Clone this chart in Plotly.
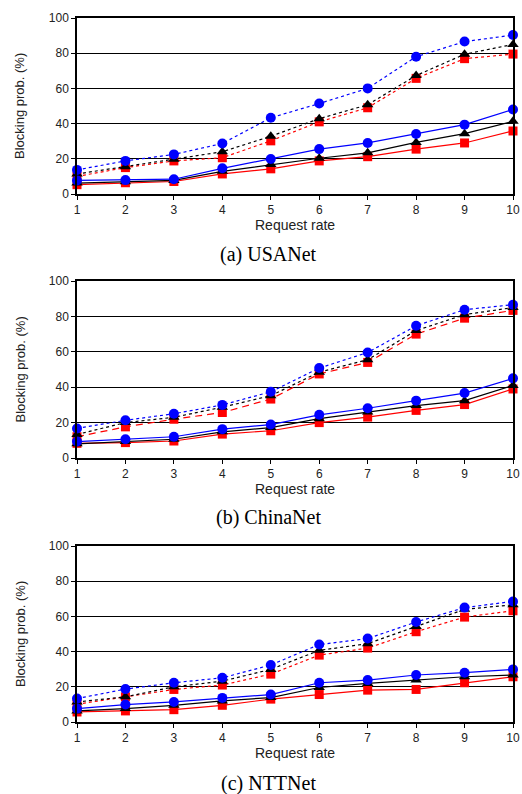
import plotly.graph_objects as go

x = list(range(1, 11))
x_ticks = [str(v) for v in x]
y_ticks = [0, 20, 40, 60, 80, 100]

# (a) USANet
usa_blue_dot = [13.7, 18.8, 22.5, 28.7, 43.3, 51.4, 60.0, 78.0, 86.6, 90.3]
usa_black_dot = [11.4, 15.5, 19.7, 24.0, 32.8, 42.8, 50.7, 67.3, 79.4, 85.0]
usa_red_dot = [10.0, 15.0, 18.8, 20.6, 30.2, 41.0, 49.0, 65.7, 76.9, 79.5]
usa_blue = [7.7, 7.9, 8.4, 14.6, 19.9, 25.5, 29.0, 34.1, 39.4, 48.0]
usa_black = [6.2, 6.9, 7.7, 12.9, 16.7, 20.3, 23.4, 29.3, 34.3, 41.3]
usa_red = [5.3, 6.4, 7.1, 11.4, 14.3, 18.8, 21.2, 25.5, 29.0, 35.8]

# (b) ChinaNet
chn_blue_dot = [16.7, 21.3, 25.0, 30.0, 37.4, 50.8, 59.6, 74.7, 83.8, 86.6]
chn_black_dot = [13.3, 20.0, 23.0, 28.7, 35.2, 48.5, 55.5, 72.0, 81.0, 85.0]
chn_red_dash = [12.0, 17.6, 21.9, 25.7, 33.3, 47.5, 54.0, 70.0, 79.0, 83.4]
chn_blue = [9.3, 10.6, 12.0, 16.3, 18.9, 24.4, 28.1, 32.4, 36.7, 45.0]
chn_black = [8.0, 9.3, 10.6, 14.8, 17.2, 22.2, 26.0, 29.6, 32.4, 41.0]
chn_red = [8.3, 8.7, 9.6, 13.5, 15.4, 20.0, 23.1, 26.9, 30.2, 39.0]

# (c) NTTNet
ntt_blue_dot = [13.3, 18.7, 22.3, 25.1, 32.4, 44.0, 47.4, 56.8, 65.0, 68.5]
ntt_black_dot = [11.4, 14.3, 20.0, 23.2, 29.9, 40.7, 44.5, 54.3, 64.0, 66.6]
ntt_red_dot = [10.1, 14.3, 18.5, 21.0, 27.2, 38.0, 42.0, 51.3, 59.6, 63.2]
ntt_blue = [7.6, 9.9, 11.4, 13.7, 15.6, 22.3, 23.8, 26.7, 28.0, 29.9]
ntt_black = [6.3, 7.6, 9.5, 12.0, 13.9, 19.6, 21.9, 23.8, 25.7, 26.7]
ntt_red = [5.7, 6.3, 7.0, 9.5, 13.0, 15.6, 18.1, 18.5, 22.3, 25.7]

captions = ["(a) USANet", "(b) ChinaNet", "(c) NTTNet"]
x_title = "Request rate"
y_title = "Blocking prob. (%)"

BLUE = "#0000ff"
BLACK = "#000000"
RED = "#ff0000"

panels = [
    [(usa_blue_dot, BLUE, "circle", "dot"), (usa_black_dot, BLACK, "triangle-up", "dot"),
     (usa_red_dot, RED, "square", "dot"), (usa_blue, BLUE, "circle", "solid"),
     (usa_black, BLACK, "triangle-up", "solid"), (usa_red, RED, "square", "solid")],
    [(chn_blue_dot, BLUE, "circle", "dot"), (chn_black_dot, BLACK, "triangle-up", "dot"),
     (chn_red_dash, RED, "square", "7px,5px"), (chn_blue, BLUE, "circle", "solid"),
     (chn_black, BLACK, "triangle-up", "solid"), (chn_red, RED, "square", "solid")],
    [(ntt_blue_dot, BLUE, "circle", "dot"), (ntt_black_dot, BLACK, "triangle-up", "dot"),
     (ntt_red_dot, RED, "square", "dot"), (ntt_blue, BLUE, "circle", "solid"),
     (ntt_black, BLACK, "triangle-up", "solid"), (ntt_red, RED, "square", "solid")],
]

W, H = 522, 794
plot_px = [(18, 194), (281, 458), (546, 722)]
caption_px = [255, 517, 783]
xl, xr = 77, 513

fig = go.Figure()
layout = dict(
    width=W, height=H,
    margin=dict(l=0, r=0, t=0, b=0, autoexpand=False),
    paper_bgcolor="white", plot_bgcolor="white",
    showlegend=False,
    font=dict(family="Liberation Sans, Arial, sans-serif", color="#222222"),
)
annotations = []

order = [2, 1, 0, 5, 4, 3]
for i, (panel, (top, bot)) in enumerate(zip(panels, plot_px)):
    sfx = "" if i == 0 else str(i + 1)
    xa, ya = "x" + sfx, "y" + sfx
    for k in order:
        vals, col, sym, dash = panel[k]
        size = 10 if sym != "square" else 9
        fig.add_trace(go.Scatter(
            x=x, y=vals, xaxis=xa, yaxis=ya, mode="lines+markers",
            line=dict(color=col, width=1.2, dash=dash),
            marker=dict(color=col, symbol=sym, size=size, line=dict(width=0)),
            cliponaxis=False,
        ))
    dom_y = [1 - bot / H, 1 - top / H]
    layout["xaxis" + sfx] = dict(
        domain=[xl / W, xr / W], range=[1, 10], anchor=ya, automargin=False,
        tickvals=x, ticktext=x_ticks, ticks="outside", ticklen=4, tickcolor="black",
        showline=True, linecolor="black", linewidth=1.5, mirror=True,
        showgrid=False, zeroline=False,
        tickfont=dict(size=12, color="#222222"),
    )
    layout["yaxis" + sfx] = dict(
        domain=dom_y, range=[0, 100], anchor=xa, automargin=False,
        tickvals=y_ticks, ticks="outside", ticklen=4, tickcolor="black",
        showline=True, linecolor="black", linewidth=1.5, mirror=True,
        showgrid=True, gridcolor="black", gridwidth=1, zeroline=False,
        tickfont=dict(size=12, color="#222222"),
    )
    annotations.append(dict(
        text=x_title, x=(xl + xr) / 2 / W, y=1 - (bot + 31) / H, xref="paper", yref="paper",
        xanchor="center", yanchor="middle", showarrow=False,
        font=dict(size=14, color="#222222"),
    ))
    annotations.append(dict(
        text=y_title, x=20 / W, y=1 - (top + bot) / 2 / H, xref="paper", yref="paper",
        xanchor="center", yanchor="middle", showarrow=False, textangle=-90,
        font=dict(size=13, color="#222222"),
    ))
    annotations.append(dict(
        text=captions[i], x=268 / W, y=1 - caption_px[i] / H, xref="paper", yref="paper",
        xanchor="center", yanchor="middle", showarrow=False,
        font=dict(family="Liberation Serif, Times New Roman, serif", size=20, color="black"),
    ))

layout["annotations"] = annotations
fig.update_layout(**layout)
fig.write_html("out.html")
